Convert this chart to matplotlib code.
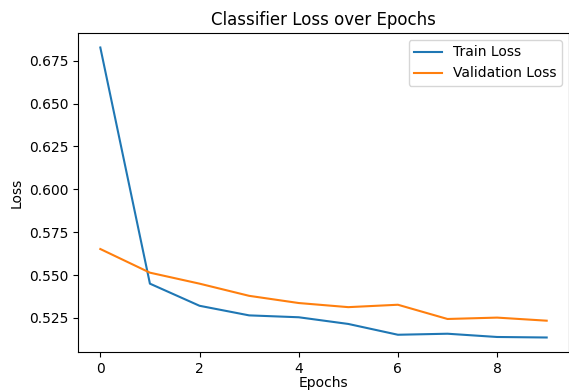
import matplotlib
matplotlib.use('Agg')
import matplotlib.pyplot as plt

epochs = list(range(10))
train_loss = [0.6827, 0.5450, 0.5321, 0.5265, 0.5254, 0.5215, 0.5152, 0.5158, 0.5139, 0.5136]
val_loss = [0.5652, 0.5514, 0.5450, 0.5379, 0.5337, 0.5313, 0.5327, 0.5244, 0.5252, 0.5234]

fig = plt.figure(figsize=(5.69, 3.91), dpi=100)
ax = fig.add_axes([78/569, 1 - 352/391, (569 - 78)/569, (352 - 33)/391])

ax.plot(epochs, train_loss, label='Train Loss')
ax.plot(epochs, val_loss, label='Validation Loss')
ax.set_title('Classifier Loss over Epochs')
ax.set_xlabel('Epochs', labelpad=0)
ax.set_ylabel('Loss')
ax.legend()

fig.savefig('out.png', dpi=100)
